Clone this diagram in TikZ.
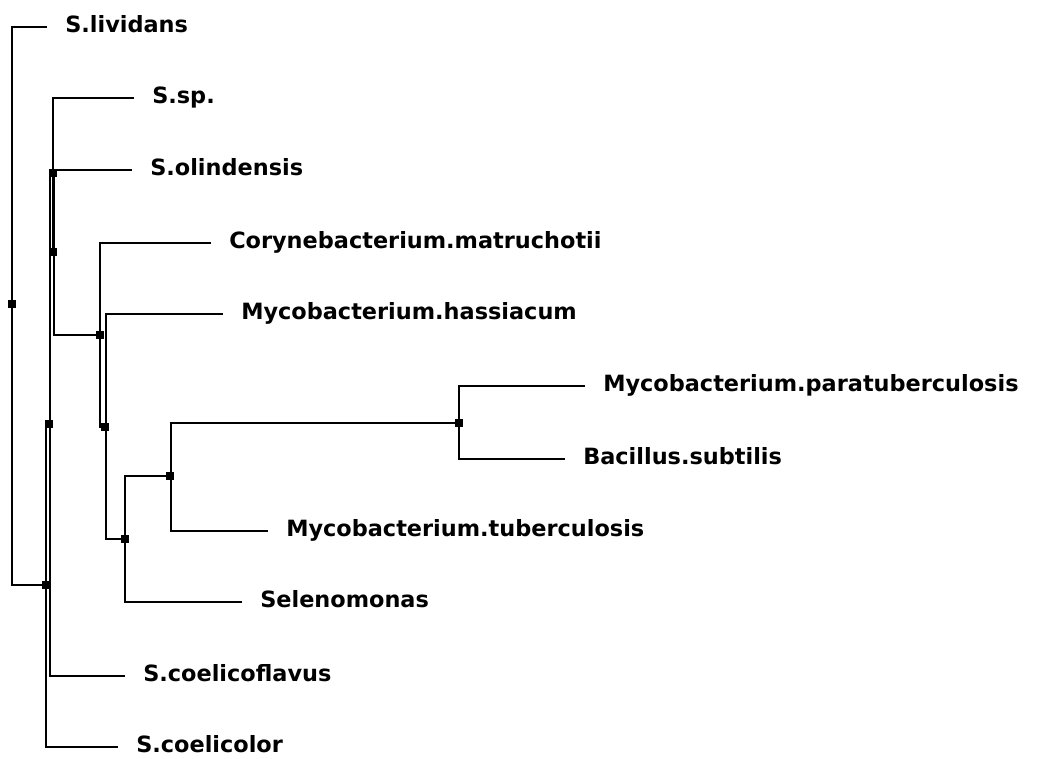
\documentclass[tikz,border=0pt]{standalone}
\usepackage{fontspec}
\setmainfont{DejaVu Sans}
\begin{document}
\begin{tikzpicture}[x=0.75pt,y=-0.75pt,
  branch/.style={line width=0.9pt,black},
  jn/.style={rectangle,fill=black,inner sep=0pt,minimum size=5.3pt},
  leaf/.style={anchor=base west,inner sep=0pt,font=\fontsize{16.8}{20}\selectfont\bfseries}]
\useasboundingbox (0,0) rectangle (1040,758);
% junctions
\coordinate (R) at (12,306);
\coordinate (A) at (46,585);
\coordinate (B) at (50,424);
\coordinate (E) at (53,173);
\coordinate (D) at (54,252);
\coordinate (F) at (100,335);
\coordinate (G) at (106,427);
\coordinate (H) at (125,539);
\coordinate (I) at (171,476);
\coordinate (J) at (459,423);
% leaf line ends
\coordinate (eLiv) at (47,27);
\coordinate (eSp) at (134,98);
\coordinate (eOli) at (132,170);
\coordinate (eCor) at (211,243);
\coordinate (eHas) at (223,314);
\coordinate (ePar) at (585,386);
\coordinate (eBac) at (565,459);
\coordinate (eTub) at (268,531);
\coordinate (eSel) at (242,602);
\coordinate (eCfl) at (125,676);
\coordinate (eCol) at (118,747);
% labels
\node[leaf] (tLiv) at ([xshift=18*0.75pt,yshift=-5*0.75pt]eLiv) {S.lividans};
\node[leaf] (tSp) at ([xshift=18*0.75pt,yshift=-5*0.75pt]eSp) {S.sp.};
\node[leaf] (tOli) at ([xshift=18*0.75pt,yshift=-5*0.75pt]eOli) {S.olindensis};
\node[leaf] (tCor) at ([xshift=18*0.75pt,yshift=-5*0.75pt]eCor) {Corynebacterium.matruchotii};
\node[leaf] (tHas) at ([xshift=18*0.75pt,yshift=-5*0.75pt]eHas) {Mycobacterium.hassiacum};
\node[leaf] (tPar) at ([xshift=18*0.75pt,yshift=-5*0.75pt]ePar) {Mycobacterium.paratuberculosis};
\node[leaf] (tBac) at ([xshift=18*0.75pt,yshift=-5*0.75pt]eBac) {Bacillus.subtilis};
\node[leaf] (tTub) at ([xshift=18*0.75pt,yshift=-5*0.75pt]eTub) {Mycobacterium.tuberculosis};
\node[leaf] (tSel) at ([xshift=18*0.75pt,yshift=-5*0.75pt]eSel) {Selenomonas};
\node[leaf] (tCfl) at ([xshift=18*0.75pt,yshift=-5*0.75pt]eCfl) {S.coelicoflavus};
\node[leaf] (tCol) at ([xshift=18*0.75pt,yshift=-5*0.75pt]eCol) {S.coelicolor};
% branches
\draw[branch] (R) |- (eLiv);
\draw[branch] (R) |- (A);
\draw[branch] (A) |- (B);
\draw[branch] (A) |- (eCol);
\draw[branch] (B) |- (E);
\draw[branch] (B) |- (eCfl);
\draw[branch] (E) |- (eSp);
\draw[branch] (E) |- (D);
\draw[branch] (D) |- (eOli);
\draw[branch] (D) |- (F);
\draw[branch] (F) |- (eCor);
\draw[branch] (F) |- (G);
\draw[branch] (G) |- (eHas);
\draw[branch] (G) |- (H);
\draw[branch] (H) |- (I);
\draw[branch] (H) |- (eSel);
\draw[branch] (I) |- (J);
\draw[branch] (I) |- (eTub);
\draw[branch] (J) |- (ePar);
\draw[branch] (J) |- (eBac);
% junction markers
\node[jn] (mR) at (12,304) {};
\node[jn] (mA) at (46,585) {};
\node[jn] (mB) at (49,424) {};
\node[jn] (mE) at (53,173) {};
\node[jn] (mD) at (53,252) {};
\node[jn] (mF) at (100,335) {};
\node[jn] (mG) at (105,427) {};
\node[jn] (mH) at (125,539) {};
\node[jn] (mI) at (170,476) {};
\node[jn] (mJ) at (459,423) {};
\end{tikzpicture}
\end{document}
